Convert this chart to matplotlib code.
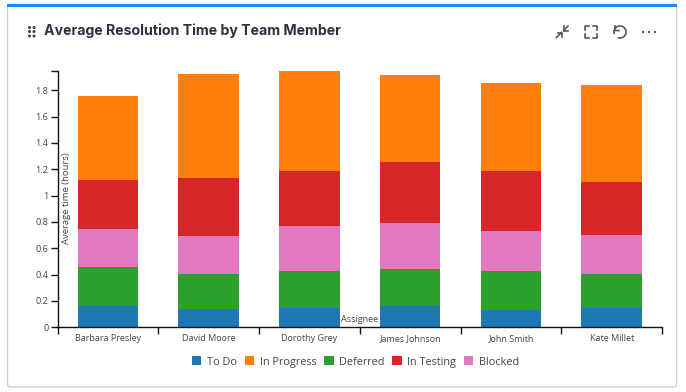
import numpy as np
import matplotlib
matplotlib.use("Agg")
import matplotlib.pyplot as plt
from matplotlib.patches import FancyBboxPatch, Rectangle, Circle, Arc, Patch

assignees = ["Barbara Presley", "David Moore", "Dorothy Grey", "James Johnson", "John Smith", "Kate Millet"]
todo = [0.158, 0.139, 0.150, 0.158, 0.131, 0.150]
deferred = [0.300, 0.269, 0.277, 0.281, 0.296, 0.258]
blocked = [0.288, 0.285, 0.342, 0.353, 0.304, 0.292]
in_testing = [0.372, 0.444, 0.421, 0.463, 0.459, 0.407]
in_progress = [0.638, 0.790, 0.756, 0.660, 0.665, 0.729]
stack_order = [("To Do", todo, "#1f77b4"), ("Deferred", deferred, "#2ca02c"),
               ("Blocked", blocked, "#e377c2"), ("In Testing", in_testing, "#d62728"),
               ("In Progress", in_progress, "#ff7f0e")]
legend_order = ["To Do", "In Progress", "Deferred", "In Testing", "Blocked"]
yticks = [0, 0.2, 0.4, 0.6, 0.8, 1, 1.2, 1.4, 1.6, 1.8]
yticklabels = ["0", "0.2", "0.4", "0.6", "0.8", "1", "1.2", "1.4", "1.6", "1.8"]

W, H = 686, 392
fig = plt.figure(figsize=(W/100, H/100), dpi=100, facecolor="white")

# pixel-space overlay for card + icons
ov = fig.add_axes([0, 0, 1, 1], zorder=0)
ov.set_xlim(0, W); ov.set_ylim(H, 0); ov.axis("off")
ov.add_patch(FancyBboxPatch((7.5, 5), 669, 382, boxstyle="round,pad=0,rounding_size=3",
                            fc="white", ec="#cfcfcf", lw=1))
ov.add_patch(Rectangle((7, 4), 669.5, 3, fc="#2684ff", ec="none"))
# drag handle
for cx in (29.5, 34):
    for cy in (27.5, 31.5, 36):
        ov.add_patch(Circle((cx, cy), 1.5, fc="#3d4450", ec="none"))
ic = "#505866"
# collapse arrows
ov.plot([556.5, 561.5], [37.5, 32.5], color=ic, lw=1.2)
ov.plot([557.5, 562, 562], [32.5, 32.5, 37], color=ic, lw=1.2)
ov.plot([563.5, 568], [30.5, 26], color=ic, lw=1.2)
ov.plot([564, 564, 568], [26, 30.5, 30.5], color=ic, lw=1.2)
# fullscreen corners
for xs, ys in (([585, 585, 589], [30, 26, 26]), ([593, 597, 597], [26, 26, 30]),
               ([585, 585, 589], [34, 38, 38]), ([593, 597, 597], [38, 38, 34])):
    ov.plot(xs, ys, color=ic, lw=1.2)
# undo
ov.add_patch(Arc((620, 32), 12, 12, theta1=-200, theta2=110, color=ic, lw=1.2))
ov.plot([615, 614.5, 619], [26, 30.5, 30.5], color=ic, lw=1.2)
# dots
for cx in (643, 649, 655):
    ov.add_patch(Circle((cx, 32), 1.2, fc=ic, ec="none"))
ov.text(44, 31, "Average Resolution Time by Team Member", family="Inter", weight="bold",
        fontsize=10.2, color="#2b3340", va="center", ha="left")

# plot
l, r, t, b = 57.5, 662, 71, 327.3
ax = fig.add_axes([l/W, 1-b/H, (r-l)/W, (b-t)/H], zorder=1)
ax.patch.set_alpha(0)
x = np.arange(len(assignees))
bottom = np.zeros(len(assignees))
for name, vals, col in stack_order:
    ax.bar(x, vals, 0.6, bottom=bottom, color=col, label=name, linewidth=0)
    bottom += np.array(vals)
ax.set_xlim(-0.5, len(assignees)-0.5)
ax.set_ylim(0, (b-t)/131.7)
for s in ("top", "right"):
    ax.spines[s].set_visible(False)
for s in ("left", "bottom"):
    ax.spines[s].set_color("#111111"); ax.spines[s].set_linewidth(1)
ax.set_yticks(yticks, yticklabels)
ax.set_yticks([ax.get_ylim()[1]], minor=True)
ax.tick_params(axis="y", which="minor", length=5, color="#111111", width=1)
ax.set_xticks(np.arange(-0.5, len(assignees)), minor=False)
ax.set_xticklabels([])
ax.tick_params(axis="both", which="major", length=5, width=1, color="#111111",
               labelsize=6.6, labelcolor="#444444", pad=1.6)
for lab in ax.get_yticklabels():
    lab.set_family("Open Sans")
for xi, name in zip(x, assignees):
    ax.annotate(name, (xi, 0), xytext=(0, -8), textcoords="offset points", ha="center", va="center",
                fontsize=6.5, color="#444444", family="Open Sans", annotation_clip=False)
fig.text(66.5/W, 1-198/H, "Average time (hours)", rotation=90, family="Open Sans", fontsize=6.8,
         color="#444444", ha="center", va="center", zorder=5)
fig.text(359.5/W, 1-320/H, "Assignee", family="Open Sans", fontsize=6.5, color="#444444",
         ha="center", va="center", zorder=5)

colors = {n: c for n, _, c in stack_order}
handles = [Patch(fc=colors[n], ec="none", label=n) for n in legend_order]
fig.legend(handles=handles, loc="center", bbox_to_anchor=(355.5/W, 1-362/H), ncol=5, frameon=False,
           prop={"family": "Open Sans", "size": 7.8}, labelcolor="#444444",
           handlelength=0.85, handleheight=0.85, handletextpad=0.5, columnspacing=0.75)
fig.savefig("out.png", dpi=100)
